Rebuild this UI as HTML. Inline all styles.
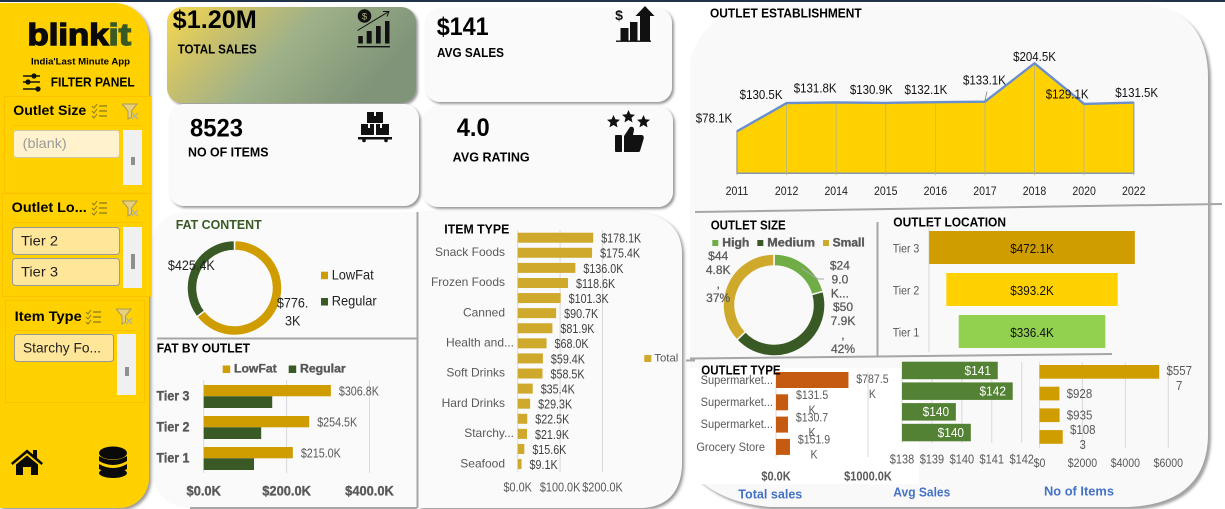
<!DOCTYPE html>
<html lang="en">
<head>
<meta charset="utf-8">
<title>Blinkit Sales Dashboard</title>
<style>
html,body{margin:0;padding:0;background:#fff;width:1225px;height:509px;overflow:hidden}
svg{display:block;font-family:"Liberation Sans",Arial,sans-serif}
.b{font-weight:bold;fill:#000}
.heavy{font-weight:bold;fill:#595959;stroke:#595959;stroke-width:.35}
.foot{font-weight:bold;fill:#4472c4;font-size:13px}
</style>
</head>
<body>
<svg id="dash" xmlns="http://www.w3.org/2000/svg" width="1225" height="509" viewBox="0 0 1225 509">
<defs>
  <filter id="sh" x="-5%" y="-5%" width="112%" height="112%"><feDropShadow dx="2" dy="2" stdDeviation="1.6" flood-color="#555" flood-opacity=".65"/></filter>
  <filter id="shr" x="-5%" y="-5%" width="112%" height="112%"><feDropShadow dx="3" dy="3" stdDeviation="1.2" flood-color="#666" flood-opacity=".6"/></filter>
  <filter id="shs" x="-5%" y="-5%" width="112%" height="112%"><feDropShadow dx="2" dy="2" stdDeviation="1.4" flood-color="#444" flood-opacity=".55"/></filter>
  <linearGradient id="cardGrad" x1="0" y1="0" x2="1" y2=".35">
    <stop offset="0" stop-color="#f7d94f"/><stop offset=".28" stop-color="#c9c06c"/><stop offset=".55" stop-color="#9fb189"/><stop offset="1" stop-color="#7f9478"/>
  </linearGradient>
  <symbol id="checklist" viewBox="0 0 16 16">
    <path d="M1 3l2 2 3-4M1 8l2 2 3-4M1 13l2 2 3-4" fill="none" stroke="#8a7a20" stroke-width="1"/>
    <path d="M8 3h8M8 8h8M8 13h8" stroke="#8a7a20" stroke-width="1.2"/>
  </symbol>
  <symbol id="funnel" viewBox="0 0 17 17">
    <path d="M0 1h15L9.5 8v6L6 16V8z" fill="#e8cf7a" stroke="#a79a5a" stroke-width="1"/>
    <path d="M10 10l6 6M16 10l-6 6" stroke="#b8b29a" stroke-width="1.4"/>
  </symbol>
  <symbol id="star" viewBox="0 0 20 20">
    <polygon points="10,0 12.9,6.6 20,7.3 14.6,12 16.2,19 10,15.3 3.8,19 5.4,12 0,7.3 7.1,6.6"/>
  </symbol>
</defs>

<rect width="1225" height="509" fill="#ffffff"/>
<rect width="1225" height="2" fill="#203349"/>

<!-- Right main panel -->
<path filter="url(#shr)" d="M770 3H1138Q1208 8 1208 78V436Q1206 506 1123 507H770Q715 502 690 470V60Q706 6 770 3Z" fill="#f9f9f9"/>

<!-- Fat panel -->
<path d="M185 212H417V508H190Q153 506 151 465V250Q153 214 185 212Z" fill="#fafafa"/>
<!-- Item panel -->
<path filter="url(#sh)" d="M419 212H632Q680 214 682 252V465Q680 506 642 508H419Z" fill="#fafafa"/>
<rect x="690" y="368" width="229" height="116" fill="#ffffff"/>

<!-- Sidebar -->
<g>
  <path filter="url(#sh)" d="M0 3H114A35 35 0 0 1 149 38V478A30 30 0 0 1 119 508H0Z" fill="#ffd100"/>
  <text x="27.5" y="45" font-size="31" font-weight="bold" stroke="#0a0a0a" stroke-width="1.4" fill="#0a0a0a" textLength="81" lengthAdjust="spacingAndGlyphs">blink</text>
  <text x="108.5" y="45" font-size="31" font-weight="bold" stroke="#3a5a25" stroke-width="1.4" fill="#3a5a25" textLength="22.5" lengthAdjust="spacingAndGlyphs">it</text>
  <text class="b" x="31" y="64.5" font-size="9" textLength="99" lengthAdjust="spacingAndGlyphs">India'Last Minute App</text>
  <g stroke="#111" stroke-width="1.6" fill="#111">
    <path d="M23 76h17M23 82h17M23 89h17"/>
    <circle cx="34" cy="76" r="1.8"/>
    <circle cx="28" cy="82" r="1.8"/>
    <circle cx="38" cy="89" r="1.8"/>
  </g>
  <text class="b" x="50.7" y="86.7" font-size="12.5" textLength="84" lengthAdjust="spacingAndGlyphs">FILTER PANEL</text>

  <g>
    <rect x="4.5" y="96.5" width="146.5" height="96.5" fill="#ffd100" stroke="#fcc200"/>
    <text class="b" x="13.3" y="115" font-size="13.5" textLength="73" lengthAdjust="spacingAndGlyphs">Outlet Size</text>
    <use href="#checklist" x="91" y="103" width="16" height="16"/>
    <use href="#funnel" x="122" y="103" width="17" height="17"/>
    <path d="M13 125.5H142" stroke="#fcc200"/>
    <rect x="13.5" y="130.5" width="106" height="27" rx="3" fill="#fff2cc" stroke="#d0c8a8"/>
    <text x="22.7" y="148" font-size="14" fill="#9a9a9a" textLength="44" lengthAdjust="spacingAndGlyphs">(blank)</text>
    <rect x="123" y="130" width="19" height="55" fill="#f0f0f0"/>
    <rect x="131" y="157" width="4" height="8" fill="#8f8f8f"/>
  </g>

  <g>
    <rect x="2.5" y="193.5" width="148.5" height="103" fill="#ffd100" stroke="#fcc200"/>
    <text class="b" x="11.7" y="212" font-size="13.5" textLength="75" lengthAdjust="spacingAndGlyphs">Outlet Lo...</text>
    <use href="#checklist" x="91" y="200" width="16" height="16"/>
    <use href="#funnel" x="122" y="200" width="17" height="17"/>
    <path d="M11 222.5H142" stroke="#fcc200"/>
    <rect x="12.5" y="227.5" width="107" height="27" rx="3" fill="#ffe699" stroke="#999"/>
    <text x="21" y="245.7" font-size="14" fill="#222" textLength="37" lengthAdjust="spacingAndGlyphs">Tier 2</text>
    <rect x="12.5" y="258.5" width="107" height="27" rx="3" fill="#ffe699" stroke="#999"/>
    <text x="21" y="276.7" font-size="14" fill="#222" textLength="37" lengthAdjust="spacingAndGlyphs">Tier 3</text>
    <rect x="123" y="227" width="19" height="61" fill="#f0f0f0"/>
    <rect x="131" y="254" width="4" height="15" fill="#8f8f8f"/>
  </g>

  <g>
    <rect x="5.5" y="300.5" width="139" height="102" fill="#ffd100" stroke="#fcc200"/>
    <text class="b" x="14.7" y="321" font-size="13.5" textLength="67" lengthAdjust="spacingAndGlyphs">Item Type</text>
    <use href="#checklist" x="85" y="309" width="16" height="16"/>
    <use href="#funnel" x="116" y="308" width="17" height="17"/>
    <path d="M14 330.5H136" stroke="#fcc200"/>
    <rect x="14.5" y="334.5" width="99" height="27" rx="3" fill="#ffe699" stroke="#999"/>
    <text x="23" y="352.7" font-size="14" fill="#222" textLength="78" lengthAdjust="spacingAndGlyphs">Starchy Fo...</text>
    <rect x="117" y="334" width="19" height="61" fill="#f0f0f0"/>
    <rect x="125" y="367" width="4" height="9" fill="#8f8f8f"/>
  </g>

  <g fill="#0a0a0a">
    <path d="M11 463L27 449.5 33 454.5V450H37V458L43 463 41.5 465 27 453 12.5 465Z"/>
    <path d="M16 464.5L27 455.5 38 464.5V475H31V467H23V475H16Z"/>
  </g>
  <g fill="#0a0a0a">
    <ellipse cx="113" cy="453" rx="14" ry="6.5"/>
    <path d="M99 456Q113 464 127 456V461Q113 469 99 461Z"/>
    <path d="M99 464Q113 472 127 464V469Q113 477 99 469Z"/>
    <ellipse cx="113" cy="473" rx="14" ry="5"/>
  </g>
</g>

<!-- KPI cards -->
<g>
  <rect x="167" y="7" width="249" height="96" rx="15" fill="url(#cardGrad)" filter="url(#shs)"/>
  <text class="b" x="172.7" y="28" font-size="25" textLength="84" lengthAdjust="spacingAndGlyphs">$1.20M</text>
  <text class="b" x="177.7" y="53.7" font-size="12.5" textLength="79" lengthAdjust="spacingAndGlyphs">TOTAL SALES</text>
  <g fill="#111">
    <circle cx="364.5" cy="16" r="6.8"/>
    <text x="364.5" y="19.5" font-size="9.5" text-anchor="middle" fill="#a9b27f">$</text>
    <rect x="358.3" y="36" width="4.5" height="7.5"/>
    <rect x="366.7" y="31" width="5" height="12.5"/>
    <rect x="376" y="26" width="4.7" height="17.5"/>
    <rect x="385" y="21" width="4.5" height="22.5"/>
    <rect x="357" y="46" width="33" height="1.4"/>
    <path d="M357.5 30.5L388 12M383 11.5h6l-2 5" fill="none" stroke="#111" stroke-width="1"/>
  </g>
</g>
<g>
  <rect x="425" y="8" width="247" height="94" rx="15" fill="#fafafa" filter="url(#shs)"/>
  <text class="b" x="436.7" y="35" font-size="25" textLength="52" lengthAdjust="spacingAndGlyphs">$141</text>
  <text class="b" x="437" y="57" font-size="12.5" textLength="67" lengthAdjust="spacingAndGlyphs">AVG SALES</text>
  <g fill="#111">
    <text x="619" y="20" font-size="14" font-weight="bold" text-anchor="middle">$</text>
    <rect x="620.5" y="28" width="8" height="13"/>
    <rect x="630" y="22" width="7.5" height="19"/>
    <path d="M640 41V16H635.5L645 6 654.5 16H650V41Z"/>
    <rect x="616" y="40.5" width="35" height="1.4"/>
  </g>
</g>
<g>
  <rect x="169" y="104" width="250" height="102" rx="15" fill="#fafafa" filter="url(#shs)"/>
  <text class="b" x="190" y="136.7" font-size="25" textLength="53" lengthAdjust="spacingAndGlyphs">8523</text>
  <text class="b" x="188" y="156.7" font-size="12.5" textLength="80.5" lengthAdjust="spacingAndGlyphs">NO OF ITEMS</text>
  <g fill="#111">
    <path d="M367 112H374V116H376V112H383V123H367Z"/>
    <path d="M361 124H368V128H370V124H374V135H361Z"/>
    <path d="M376 124H380V128H382V124H389V135H376Z"/>
    <rect x="358" y="137" width="34" height="2.5"/>
    <circle cx="364" cy="140.5" r="1.8"/>
    <circle cx="386" cy="140.5" r="1.8"/>
  </g>
</g>
<g>
  <rect x="423" y="106" width="250" height="101" rx="15" fill="#fafafa" filter="url(#shs)"/>
  <text class="b" x="456.7" y="136" font-size="25" textLength="33" lengthAdjust="spacingAndGlyphs">4.0</text>
  <text class="b" x="452.7" y="161.7" font-size="12.5" textLength="77" lengthAdjust="spacingAndGlyphs">AVG RATING</text>
  <g fill="#111">
    <use href="#star" x="607" y="115" width="13" height="13"/>
    <use href="#star" x="622" y="110" width="13" height="13"/>
    <use href="#star" x="637" y="115" width="13" height="13"/>
    <rect x="615" y="135" width="7" height="17" rx="1"/>
    <path d="M624 136L630 127Q634 126 634 130L633 135H642Q645 136 643 141L640 151Q640 152 637 152H624Z"/>
  </g>
</g>

<!-- Titles -->
<text x="175.7" y="229" font-size="12.5" font-weight="bold" fill="#3a5a25" textLength="86" lengthAdjust="spacingAndGlyphs">FAT CONTENT</text>
<text class="b" x="156.7" y="352.7" font-size="12.5" textLength="93.3" lengthAdjust="spacingAndGlyphs">FAT BY OUTLET</text>
<text class="b" x="444.3" y="233.7" font-size="12.5" textLength="65" lengthAdjust="spacingAndGlyphs">ITEM TYPE</text>
<text class="b" x="710" y="17.3" font-size="12.5" textLength="151.7" lengthAdjust="spacingAndGlyphs">OUTLET ESTABLISHMENT</text>
<text class="b" x="710.7" y="229.3" font-size="12.5" textLength="75" lengthAdjust="spacingAndGlyphs">OUTLET SIZE</text>
<text class="b" x="893.3" y="226.7" font-size="12.5" textLength="112.7" lengthAdjust="spacingAndGlyphs">OUTLET LOCATION</text>

<!-- Legends -->
<g>
  <rect x="321" y="271.7" width="7" height="7.5" fill="#cf9d00"/>
  <text x="331.7" y="279.7" font-size="14" fill="#222" textLength="42" lengthAdjust="spacingAndGlyphs">LowFat</text>
  <rect x="321" y="298" width="7" height="7.5" fill="#3a5a25"/>
  <text x="331.7" y="305.7" font-size="14" fill="#222" textLength="45" lengthAdjust="spacingAndGlyphs">Regular</text>
</g>
<g>
  <rect x="222.7" y="365.5" width="7.5" height="7.5" fill="#cf9d00"/>
  <text class="heavy" x="234" y="372.7" font-size="11.5" textLength="42.7" lengthAdjust="spacingAndGlyphs">LowFat</text>
  <rect x="288.7" y="365.5" width="7.5" height="7.5" fill="#3a5a25"/>
  <text class="heavy" x="300" y="372.7" font-size="11.5" textLength="45.7" lengthAdjust="spacingAndGlyphs">Regular</text>
</g>
<g>
  <rect x="644.3" y="355" width="7" height="7" fill="#cfa92b"/>
  <text x="654.3" y="361.7" font-size="11" fill="#595959" textLength="24" lengthAdjust="spacingAndGlyphs">Total</text>
</g>
<g>
  <rect x="712.3" y="240" width="6" height="6" fill="#70ad47"/>
  <text class="heavy" x="722.3" y="246.7" font-size="11.5" textLength="27" lengthAdjust="spacingAndGlyphs">High</text>
  <rect x="757.3" y="240" width="6" height="6" fill="#3a5a25"/>
  <text class="heavy" x="767.3" y="246.7" font-size="11.5" textLength="47.7" lengthAdjust="spacingAndGlyphs">Medium</text>
  <rect x="823" y="240" width="6" height="6" fill="#cfa92b"/>
  <text class="heavy" x="832.7" y="246.7" font-size="11.5" textLength="32" lengthAdjust="spacingAndGlyphs">Small</text>
</g>

<g id="charts"></g>

<!-- Dividers -->
<g stroke="#a6a6a6" stroke-width="2" fill="none">
  <path d="M157 338.5H417"/>
  <path d="M417.5 212V508"/>
  <path d="M190 508H417"/>
  <path d="M695 212L1222 204"/>
  <path d="M877.5 222V357"/>
  <path d="M690 358.5L1112 354"/>
  <path d="M686 360.5H695"/>
</g>

<text class="b" x="701.3" y="374.3" font-size="12.5" textLength="79.3" lengthAdjust="spacingAndGlyphs">OUTLET TYPE</text>
<text class="foot" x="738.3" y="498.3" textLength="64" lengthAdjust="spacingAndGlyphs">Total sales</text>
<text class="foot" x="893.3" y="496.7" textLength="57" lengthAdjust="spacingAndGlyphs">Avg Sales</text>
<text class="foot" x="1044" y="495.3" textLength="70" lengthAdjust="spacingAndGlyphs">No of Items</text>
</svg>

<script>
// ---------- chart data ----------
const fatCategories = ['LowFat', 'Regular'];
const fatTotals = [776.3, 425.4];
const tierCategories = ['Tier 3', 'Tier 2', 'Tier 1'];
const fatLowValues = [306.8, 254.5, 215.0];
const fatRegularValues = [165.3, 138.7, 121.4];
const fatTicks = [0, 200, 400];
const itemCategories = ['Fruits and Vegetables', 'Snack Foods', 'Household', 'Frozen Foods', 'Dairy', 'Canned', 'Baking Goods', 'Health and...', 'Meat', 'Soft Drinks', 'Breads', 'Hard Drinks', 'Others', 'Starchy...', 'Breakfast', 'Seafood'];
const itemValues = [178.1, 175.4, 136.0, 118.6, 101.3, 90.7, 81.9, 68.0, 59.4, 58.5, 35.4, 29.3, 22.5, 21.9, 15.6, 9.1];
const itemTicks = [0, 100, 200];
const estYears = ['2011', '2012', '2014', '2015', '2016', '2017', '2018', '2020', '2022'];
const estSales = [78.1, 130.5, 131.8, 130.9, 132.1, 133.1, 204.5, 129.1, 131.5];
const sizeCategories = ['High', 'Medium', 'Small'];
const sizeValues = [249.0, 507.9, 444.8];
const locationValues = [472.1, 393.2, 336.4];
const typeCategories = ['Supermarket...', 'Supermarket...', 'Supermarket...', 'Grocery Store'];
const typeSales = [787.5, 131.5, 130.7, 151.9];
const typeAvgSales = [141.2, 141.7, 139.8, 140.3];
const typeItemCounts = [5577, 928, 935, 1083];
const typeSalesTicks = [0, 1000];
const typeAvgTicks = [138, 139, 140, 141, 142];
const typeItemTicks = [0, 2000, 4000, 6000];

// ---------- helpers ----------
const NS = 'http://www.w3.org/2000/svg';
const root = document.getElementById('charts');
const GRID = '#d9d9d9', GRAY = '#595959';
function linear(d0, d1, r0, r1) { return v => r0 + (v - d0) * (r1 - r0) / (d1 - d0); }
function shape(tag, props) {
  const n = document.createElementNS(NS, tag);
  for (const k in props) n.setAttribute(k, props[k]);
  root.appendChild(n);
  return n;
}
// text centred vertically on y; sx squeezes the glyphs horizontally
function label(x, y, content, o) {
  o = o || {};
  const size = o.size || 12, lh = o.lh || 15;
  const lines = Array.isArray(content) ? content : [content];
  const n = document.createElementNS(NS, 'text');
  n.setAttribute('transform', 'translate(' + x + ',' + y + ') scale(' + (o.sx || 0.88) + ',1)');
  n.setAttribute('font-size', size);
  n.setAttribute('fill', o.fill || GRAY);
  n.setAttribute('text-anchor', o.anchor || 'middle');
  if (o.cls) n.setAttribute('class', o.cls);
  if (o.weight) n.setAttribute('font-weight', o.weight);
  lines.forEach((s, k) => {
    const t = document.createElementNS(NS, 'tspan');
    t.setAttribute('x', 0);
    t.setAttribute('y', (k - (lines.length - 1) / 2) * lh + size * 0.35);
    t.textContent = s;
    n.appendChild(t);
  });
  root.appendChild(n);
  return n;
}
function chunk(s, n) {
  const out = [];
  for (let i = 0; i < s.length; i += n) out.push(s.slice(i, i + n));
  return out;
}
function arcPath(cx, cy, rO, rI, a0, a1) {
  const p = (r, a) => (cx + r * Math.sin(a)).toFixed(2) + ' ' + (cy - r * Math.cos(a)).toFixed(2);
  const big = a1 - a0 > Math.PI ? 1 : 0;
  return 'M' + p(rO, a0) + 'A' + rO + ' ' + rO + ' 0 ' + big + ' 1 ' + p(rO, a1) + 'L' + p(rI, a1) + 'A' + rI + ' ' + rI + ' 0 ' + big + ' 0 ' + p(rI, a0) + 'Z';
}
function fmtK(v) { return '$' + v.toFixed(1) + 'K'; }

// ---------- fat content donut ----------
(function () {
  const cx = 234.5, cy = 288, colors = ['#cf9d00', '#3a5a25'];
  const total = fatTotals.reduce((a, b) => a + b, 0);
  const wrapAt = [5, 7], nudgeX = [16, -1], nudgeY = [3, -2];
  let a = 0;
  fatTotals.forEach((v, i) => {
    const span = v / total * 2 * Math.PI;
    const s = shape('path', { d: arcPath(cx, cy, 47.5, 37.5, a, a + span), fill: colors[i], stroke: '#fafafa', 'stroke-width': 1.5 });
    
    
    a += span;
  });
  a = 0;
  fatTotals.forEach((v, i) => {
    const span = v / total * 2 * Math.PI, mid = a + span / 2;
    const t = label(cx + 47 * Math.sin(mid) + nudgeX[i], cy - 47 * Math.cos(mid) + nudgeY[i], chunk(fmtK(v), wrapAt[i]), { size: 14, fill: '#222', sx: 0.9, lh: 18 });
    
    
    a += span;
  });
})();

// ---------- fat by outlet ----------
(function () {
  const x = linear(0, 400, 203.7, 369.5), top = 385, step = 31, h = 11.3;
  fatTicks.forEach(t => {
    const g = shape('line', { x1: x(t), x2: x(t), y1: 380, y2: 473, stroke: GRID });
    
    
    const l = label(x(t), 490.5, '$' + t.toFixed(1) + 'K', { size: 14, cls: 'heavy', sx: 0.92 });
    
    
  });
  tierCategories.forEach((c, i) => {
    const y = top + i * step;
    const b1 = shape('rect', { x: x(0), y: y, width: x(fatLowValues[i]) - x(0), height: h, fill: '#cf9d00' });
    
    
    const b2 = shape('rect', { x: x(0), y: y + h, width: x(fatRegularValues[i]) - x(0), height: h + .4, fill: '#3a5a25' });
    
    
    const v = label(x(fatLowValues[i]) + 8, y + 6, fmtK(fatLowValues[i]), { size: 12.5, anchor: 'start', sx: .86 });
    
    
    const t = label(173, y + 11, c, { size: 13.5, cls: 'heavy', sx: .92 });
    
    
  });
})();

// ---------- item type bars ----------
(function () {
  const x = linear(0, 200, 517.7, 602.5), top = 232.7, step = 15.09, h = 10;
  itemTicks.forEach(t => {
    const g = shape('line', { x1: x(t), x2: x(t), y1: 230, y2: 472, stroke: GRID });
    
    
    const l = label(x(t), 487, '$' + t.toFixed(1) + 'K', { size: 12.5, sx: .87 });
    
    
  });
  itemValues.forEach((v, i) => {
    const y = top + i * step;
    const b = shape('rect', { x: x(0), y: y, width: x(v) - x(0), height: h, fill: '#cfa92b' });
    
    
    const l = label(x(v) + 8, y + 5.5, fmtK(v), { size: 12.5, anchor: 'start', sx: .86, fill: '#404040' });
    
    
    if (i % 2 === 1) {
      const c = itemCategories[i];
      const cl = label(c.endsWith('...') ? 514 : 505, y + 4, c, { size: 12, anchor: 'end', sx: 1 });
      
      
    }
  });
})();

// ---------- outlet establishment area ----------
(function () {
  const x = linear(0, 8, 737, 1133.7), y = linear(0, 204.5, 173.3, 63.3);
  const nudgeX = [-23, -25.5, -21, -14.5, -9.5, -0.5, 0, -17, 3];
  const nudgeY = [-13, -8.7, -14.5, -13.5, -12.5, -21.5, -6.6, -9.8, -9.8];
  const pts = estSales.map((v, i) => x(i).toFixed(1) + ' ' + y(v).toFixed(1));
  const area = shape('path', { d: 'M' + x(0) + ' ' + y(0) + 'L' + pts.join('L') + 'L' + x(8) + ' ' + y(0) + 'Z', fill: '#ffd100', stroke: '#8497b0', 'stroke-width': 1.5 });
  
  
  estSales.forEach((v, i) => {
    const g = shape('line', { x1: x(i), x2: x(i), y1: y(v), y2: y(0) + 2, stroke: '#b9b48a', 'stroke-width': .8 });
    
    
  });
  const line = shape('path', { d: 'M' + pts.join('L'), fill: 'none', stroke: '#6a8fcf', 'stroke-width': 2.4 });
  
  
  const leader = shape('line', { x1: x(5), y1: y(estSales[5]) - 1, x2: x(5) + 2, y2: y(estSales[5]) - 10, stroke: '#7f7f7f', 'stroke-width': .8 });
  
  
  estSales.forEach((v, i) => {
    const l = label(x(i) + nudgeX[i], y(v) + nudgeY[i], fmtK(v), { size: 12.5, fill: '#111', sx: .92 });
    
    
    const t = label(x(i), 191, estYears[i], { size: 12, fill: '#222', sx: .88 });
    
    
  });
})();

// ---------- outlet size donut ----------
(function () {
  const cx = 774, cy = 305, colors = ['#70ad47', '#3a5a25', '#cfa92b'];
  const total = sizeValues.reduce((a, b) => a + b, 0);
  const nudgeX = [35, 44, -9], nudgeY = [15, -21.5, -8];
  let a = 0;
  sizeValues.forEach((v, i) => {
    const span = v / total * 2 * Math.PI, mid = a + span / 2;
    const s = shape('path', { d: arcPath(cx, cy, 51, 39, a, a + span), fill: colors[i], stroke: '#f9f9f9', 'stroke-width': 1.5 });
    
    
    const txt = fmtK(v);
    const pct = Math.round(v / total * 100) + '%';
    const lines = i === 0 ? [txt.slice(0, 3), txt.slice(3, 6), txt.slice(6) + '...'] : [txt.slice(0, 3), txt.slice(3), ',', pct];
    const l = label(cx + 51 * Math.sin(mid) + nudgeX[i], cy - 51 * Math.cos(mid) + nudgeY[i], lines, { size: 12, sx: 1, lh: 14, fill: '#595959' });
    
    
    l.setAttribute('stroke', '#595959');
    l.setAttribute('stroke-width', '.25');
    a += span;
  });
  const leader = shape('path', { d: 'M801.7 268.3L818 279H824', fill: 'none', stroke: '#a6a6a6' });
  
  
})();

// ---------- outlet location funnel ----------
(function () {
  const cx = 1032, w = linear(0, 472.1, 0, 205.7), top = 231, step = 42, h = 33, colors = ['#cf9d00', '#ffd100', '#92d050'];
  const axis = shape('line', { x1: 929, x2: 929, y1: 224, y2: 352, stroke: GRID });
  
  
  locationValues.forEach((v, i) => {
    const y = top + i * step;
    const b = shape('rect', { x: cx - w(v) / 2, y: y, width: w(v), height: h, fill: colors[i] });
    
    
    const l = label(cx, y + h / 2 + 1, fmtK(v), { size: 13, fill: '#111', sx: .9 });
    
    
    const c = label(906, y + h / 2 + 1, tierCategories[i], { size: 12, sx: .88 });
    
    
  });
})();

// ---------- outlet type: total sales ----------
(function () {
  const x = linear(0, 1000, 776, 868), top = 372, step = 22.3, h = 16;
  const tickRows = [384, 406, 428, 451];
  typeSalesTicks.forEach(t => {
    const g = shape('line', { x1: x(t), x2: x(t), y1: 372, y2: 457, stroke: GRID });
    
    
    const l = label(x(t), 476, '$' + t.toFixed(1) + 'K', { size: 12.5, sx: .88, weight: 'bold', fill: '#595959' });
    
    
  });
  typeSales.forEach((v, i) => {
    const y = top + i * step;
    const b = shape('rect', { x: x(0), y: y, width: x(v) - x(0), height: h, fill: '#c55a11' });
    
    
    const l = label(x(v) + 24, y + h / 2 + (i === 0 ? 6.5 : 0), chunk(fmtK(v), 6), { size: 12, sx: .88, lh: 15 });
    
    
    const c = label(i === 3 ? 765 : 773, tickRows[i] - 4, typeCategories[i], { size: 12, anchor: 'end', sx: .92 });
    
    
  });
})();

// ---------- outlet type: avg sales ----------
(function () {
  const x = linear(138, 142, 902, 1021.7), top = 361.7, step = 20.7, h = 17.5;
  typeAvgTicks.forEach(t => {
    const g = shape('line', { x1: x(t), x2: x(t), y1: 362, y2: 443, stroke: GRID });
    
    
    const l = label(x(t), 459, '$' + t, { size: 12.5, sx: .88 });
    
    
  });
  typeAvgSales.forEach((v, i) => {
    const y = top + i * step;
    const b = shape('rect', { x: x(138), y: y, width: x(v) - x(138), height: h, fill: '#548235' });
    
    
    const l = label(x(v) - 20, y + h / 2, '$' + Math.round(v), { size: 12.5, fill: '#fff', sx: .95 });
    
    
  });
})();

// ---------- outlet type: no of items ----------
(function () {
  const x = linear(0, 6000, 1039.5, 1168.3), top = 365, step = 21.7, h = 13.7;
  typeItemTicks.forEach(t => {
    const g = shape('line', { x1: x(t), x2: x(t), y1: 362, y2: 448, stroke: GRID });
    
    
    const l = label(x(t), 463, '$' + t, { size: 12, sx: .88 });
    
    
  });
  typeItemCounts.forEach((v, i) => {
    const y = top + i * step;
    const b = shape('rect', { x: x(0), y: y, width: x(v) - x(0), height: h, fill: '#cf9d00' });
    
    
    const l = label(x(v) + 20, y + h / 2 + (i === 0 ? 6.5 : 0), chunk('$' + v, 4), { size: 12.5, sx: .92, lh: 15 });
    
    
  });
})();
</script>
</body>
</html>
